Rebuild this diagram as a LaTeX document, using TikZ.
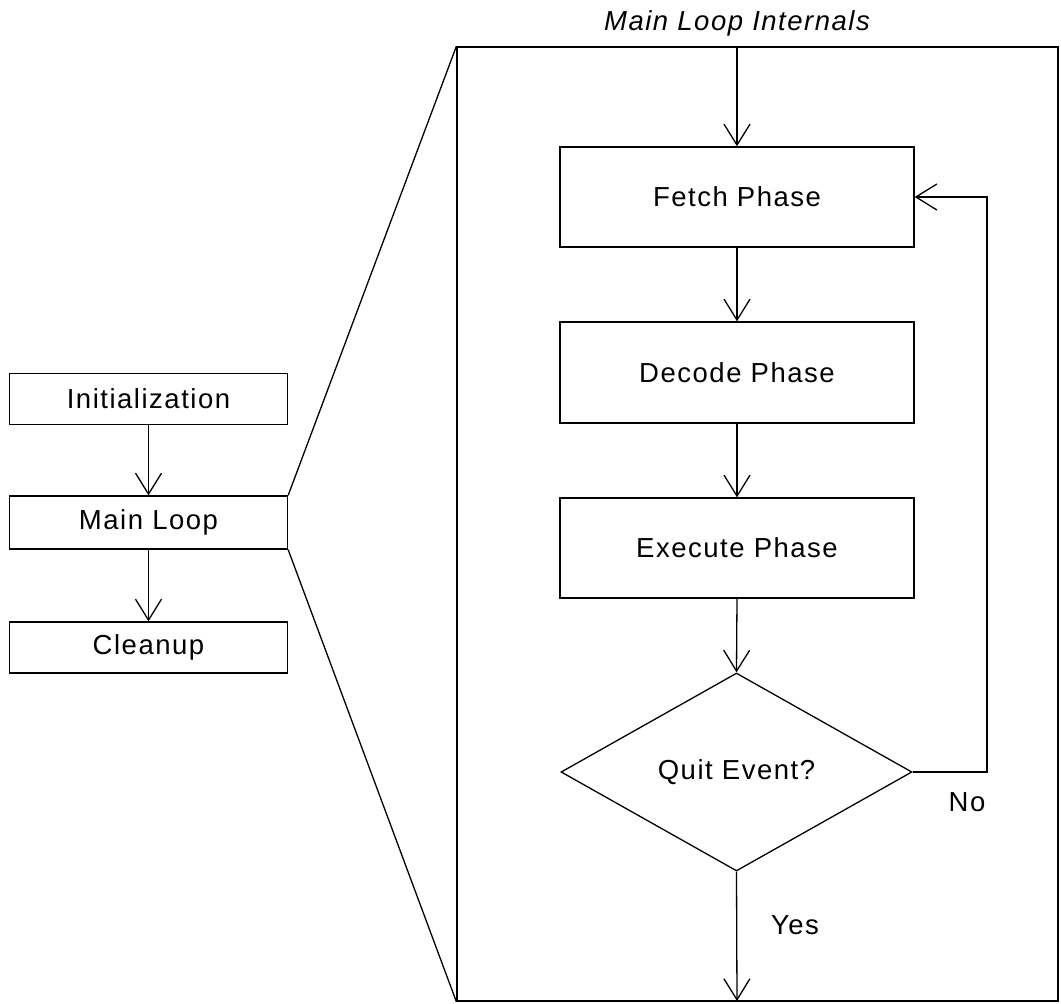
\documentclass[tikz,border=0pt]{standalone}
\usepackage{fontspec}
\setmainfont{Liberation Sans}[LetterSpace=5.5]
\usetikzlibrary{arrows.meta,shapes.geometric}
\tikzset{
  txt/.style={font=\fontsize{27.5}{32}\selectfont},
  box/.style={draw, line width=1.3pt, minimum width=#1, inner sep=0pt, txt},
  box/.default=278pt,
  dec/.style={draw, diamond, aspect=1.7727, line width=1.3pt, inner sep=0pt, minimum width=351pt, minimum height=198pt, txt},
  arr/.style={line width=1.3pt, -{Straight Barb[length=21pt, width=26pt, line width=1.3pt]}},
  ln/.style={line width=1.3pt},
  lbl/.style={txt}
}
\begin{document}
\begin{tikzpicture}[x=1pt,y=-1pt]
\useasboundingbox (0,0) rectangle (1061,1004);
\fill[white] (0,0) rectangle (1061,1004);
% left column
\node[box, minimum height=51pt] (init) at (148.5,399) {Initialization};
\node[box, minimum height=53pt] (main) at (148.5,522.5) {Main Loop};
\node[box, minimum height=51pt] (clean) at (148.5,647.5) {Cleanup};
\draw[arr] (init.south) -- (main.north);
\draw[arr] (main.south) -- (clean.north);
% big frame
\node[draw, line width=1.3pt, minimum width=601pt, minimum height=954pt, inner sep=0pt] (frame) at (757.5,524) {};
\node[lbl, font=\fontsize{27.5}{32}\selectfont\itshape] (title) at (737,23) {Main Loop Internals};
\draw[ln] (main.north east) -- (frame.north west);
\draw[ln] (main.south east) -- (frame.south west);
% inner flow
\node[box=354pt, minimum height=100pt] (fetch) at (737,197) {Fetch Phase};
\node[box=354pt, minimum height=101pt] (decode) at (737,372.5) {Decode Phase};
\node[box=354pt, minimum height=100pt] (exec) at (737,548) {Execute Phase};
\node[dec] (quit) at (736.5,772) {Quit Event?};
\coordinate (ftop) at (737,47);
\coordinate (fbot) at (737,1001);
\coordinate (c1) at (987,772);
\coordinate (c2) at (987,197);
\draw[arr] (ftop) -- (fetch.north);
\draw[arr] (fetch.south) -- (decode.north);
\draw[arr] (decode.south) -- (exec.north);
\draw[arr] (exec.south) -- (quit.north);
\draw[arr] (quit.east) -- (c1) -- (c2) -- (fetch.east);
\draw[arr] (quit.south) -- (fbot);
\node[lbl] (no) at (967,802) {No};
\node[lbl] (yes) at (795,925) {Yes};
\end{tikzpicture}
\end{document}
